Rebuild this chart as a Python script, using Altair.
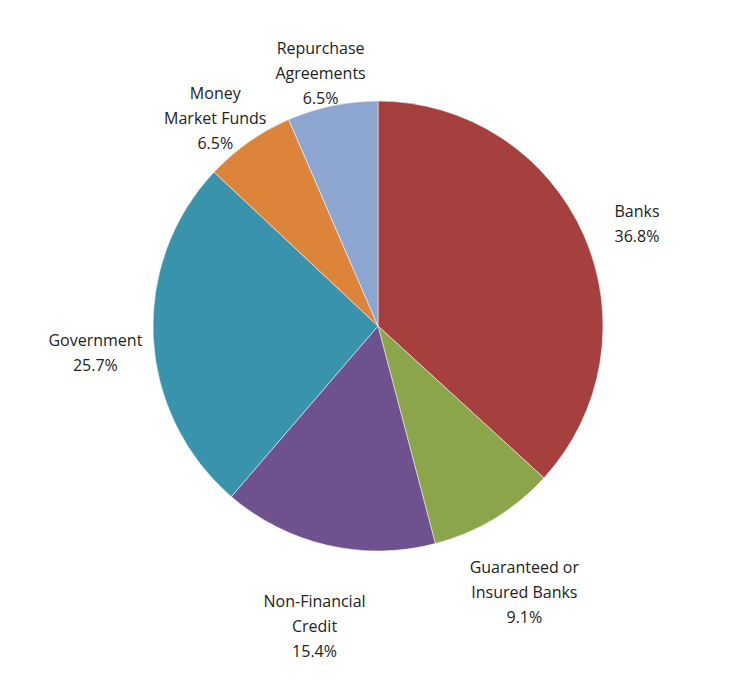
import altair as alt
import pandas as pd

labels = ["Banks\n36.8%", "Guaranteed or\nInsured Banks\n9.1%", "Non-Financial\nCredit\n15.4%",
          "Government\n25.7%", "Money\nMarket Funds\n6.5%", "Repurchase\nAgreements\n6.5%"]
cats = ["Banks", "Guaranteed or Insured Banks", "Non-Financial Credit", "Government",
        "Money Market Funds", "Repurchase Agreements"]
values = [36.8, 9.1, 15.4, 25.7, 6.5, 6.5]
colors = ["#A5403E", "#8BA64A", "#6E528E", "#3A93AC", "#DC843A", "#8DA6CF"]

df = pd.DataFrame({"cat": cats, "value": values, "label": labels, "order": list(range(6))})

base = alt.Chart(df).encode(
    theta=alt.Theta("value:Q", stack=True),
    order=alt.Order("order:Q"),
    x=alt.value(370),
    y=alt.value(318),
)
pie = base.mark_arc(outerRadius=225, stroke="white", strokeWidth=0.5).encode(
    color=alt.Color("cat:N", scale=alt.Scale(domain=cats, range=colors), legend=None)
)
text = base.mark_text(radius=283, fontSize=16, font="Open Sans", lineBreak="\n",
                      lineHeight=25, color="#222").encode(text="label:N")

chart = (pie + text).properties(width=722, height=663, background="white", padding=0,
    autosize=alt.AutoSizeParams(type="none")).configure_view(stroke=None)
chart.save("out.html", embed_options={"renderer": "svg", "actions": False})
